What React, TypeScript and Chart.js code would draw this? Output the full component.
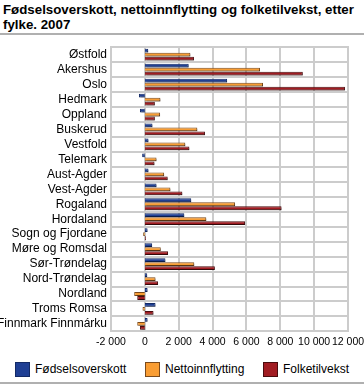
import React, { useEffect, useRef } from "react";
import { Chart, registerables } from "chart.js";

Chart.register(...registerables);

const categories = [
  "Østfold", "Akershus", "Oslo", "Hedmark", "Oppland", "Buskerud", "Vestfold",
  "Telemark", "Aust-Agder", "Vest-Agder", "Rogaland", "Hordaland", "Sogn og Fjordane",
  "Møre og Romsdal", "Sør-Trøndelag", "Nord-Trøndelag", "Nordland", "Troms Romsa",
  "Finnmark Finnmárku",
];

const fodselsoverskott = [200, 2590, 4860, -350, -290, 450, 215, -160, 215, 690, 2740, 2330, 160, 430, 1215, 140, 160, 630, 160];
const nettoinnflytting = [2690, 6800, 6980, 920, 900, 3100, 2390, 690, 1140, 1510, 5330, 3630, -100, 940, 2920, 630, -630, -140, -450];
const folketilvekst = [2900, 9330, 11820, 590, 590, 3550, 2630, 570, 1350, 2215, 8075, 5920, 60, 1370, 4135, 780, -450, 510, -290];

const seriesNames = ["Fødselsoverskott", "Nettoinnflytting", "Folketilvekst"];
const seriesColors = ["#1f3f94", "#f99d33", "#a11c22"];
const seriesBorders = ["#132a66", "#7a4a1c", "#4a0c0e"];
const xMin = -2000;
const xMax = 12000;
const xStep = 2000;

const FONT = "Arial, 'Liberation Sans', sans-serif";
const GRID = "#cccccc";

const shadowPlugin = {
  id: "barShadow",
  beforeDatasetDraw(chart: any) {
    const ctx = chart.ctx;
    ctx.save();
    ctx.shadowColor = "rgba(0,0,0,0.35)";
    ctx.shadowOffsetX = 1.5;
    ctx.shadowOffsetY = 1.5;
    ctx.shadowBlur = 1;
  },
  afterDatasetDraw(chart: any) {
    chart.ctx.restore();
  },
};

const gridPlugin = {
  id: "customGrid",
  beforeDatasetsDraw(chart: any) {
    const ctx = chart.ctx;
    const area = chart.chartArea;
    const xs = chart.scales.x;
    ctx.save();
    ctx.fillStyle = GRID;
    for (let v = xMin; v <= xMax; v += xStep) {
      const px = Math.round(xs.getPixelForValue(v));
      ctx.fillRect(px - 1, Math.round(area.top) - 1, 2, Math.round(area.bottom - area.top) + 2);
    }
    const n = categories.length;
    for (let i = 0; i <= n; i++) {
      const py = Math.round(area.top + ((area.bottom - area.top) * i) / n);
      ctx.fillRect(Math.round(area.left) - 1, py - 1, Math.round(area.right - area.left) + 2, 2);
    }
    ctx.restore();
  },
};

const legendLeft = [15, 145, 263];

export default function App() {
  const ref = useRef<HTMLCanvasElement | null>(null);

  useEffect(() => {
    document.body.style.margin = "0";
    const canvas = ref.current;
    if (!canvas) return;
    const chart = new Chart(canvas, {
      type: "bar",
      data: {
        labels: categories,
        datasets: seriesNames.map((name, i) => ({
          label: name,
          data: [fodselsoverskott, nettoinnflytting, folketilvekst][i],
          backgroundColor: seriesColors[i],
          borderColor: seriesBorders[i],
          borderWidth: 1,
        })),
      },
      options: {
        indexAxis: "y",
        animation: false,
        responsive: false,
        maintainAspectRatio: false,
        devicePixelRatio: 1,
        layout: { padding: { top: 7, left: 0, right: 0, bottom: 0 } },
        datasets: {
          bar: { categoryPercentage: 0.8, barPercentage: 0.95 },
        },
        scales: {
          x: {
            min: xMin,
            max: xMax,
            afterFit: (scale: any) => {
              scale.paddingRight = 16;
              scale.paddingLeft = 0;
            },
            ticks: {
              stepSize: xStep,
              color: "#000",
              font: { family: FONT, size: 10.5 },
              maxRotation: 0,
              autoSkip: false,
              padding: 4,
              callback: (v: any) => {
                const n = Number(v);
                const s = Math.abs(n).toString().replace(/\B(?=(\d{3})+(?!\d))/g, " ");
                return (n < 0 ? "-" : "") + s;
              },
            },
            grid: { display: false, drawTicks: false },
            border: { display: false },
          },
          y: {
            afterFit: (scale: any) => {
              scale.width = 111;
            },
            ticks: {
              color: "#000",
              font: { family: FONT, size: 12 },
              autoSkip: false,
              padding: 4,
            },
            grid: { display: false, drawTicks: false },
            border: { display: false },
          },
        },
        plugins: {
          legend: { display: false },
          title: { display: false },
          tooltip: { enabled: false },
        },
      },
      plugins: [gridPlugin, shadowPlugin],
    } as any);
    return () => chart.destroy();
  }, []);

  return (
    <div style={{ position: "relative", width: 364, height: 385, background: "#fff", overflow: "hidden" }}>
      <div
        style={{
          position: "absolute",
          left: 3,
          top: 2,
          width: 361,
          fontFamily: FONT,
          fontWeight: "bold",
          fontSize: 13.3,
          lineHeight: "15px",
          color: "#000",
          whiteSpace: "nowrap",
        }}
      >
        Fødselsoverskott, nettoinnflytting og folketilvekst, etter
        <br />
        fylke. 2007
      </div>
      <div style={{ position: "absolute", left: 0, top: 33, width: 364, height: 2, background: "#b0b0b0" }} />
      <canvas
        ref={ref}
        width={364}
        height={316}
        style={{ position: "absolute", left: 0, top: 36, width: 364, height: 316 }}
      />
      {seriesNames.map((name, i) => (
        <div
          key={name}
          style={{
            position: "absolute",
            left: legendLeft[i],
            top: 362,
            height: 14,
            display: "flex",
            alignItems: "center",
            fontFamily: FONT,
            fontSize: 12,
            color: "#000",
            whiteSpace: "nowrap",
          }}
        >
          <span
            style={{
              display: "inline-block",
              width: 13,
              height: 13,
              background: seriesColors[i],
              border: "1px solid " + seriesBorders[i],
              marginRight: 5,
            }}
          />
          {name}
        </div>
      ))}
      <div style={{ position: "absolute", left: 0, top: 382, width: 364, height: 2, background: "#b0b0b0" }} />
    </div>
  );
}
